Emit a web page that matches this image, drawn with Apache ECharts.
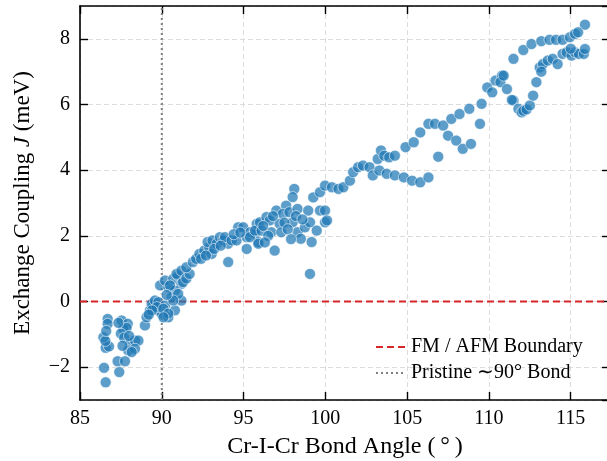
<!DOCTYPE html>
<html>
<head>
<meta charset="utf-8">
<script src="https://cdn.jsdelivr.net/npm/echarts@6/dist/echarts.min.js"></script>
<style>html,body{margin:0;padding:0;background:#fff}#c{width:607px;height:461px}</style>
</head>
<body>
<div id="c"></div>
<script>
// Bond angle (deg) and exchange coupling J (meV)
const angles = [
86.57,86.47,87.40,87.30,87.75,86.57,86.43,86.77,86.69,86.69,86.55,86.60,87.55,87.92,87.65,87.85,87.50,87.35,87.70,88.06,88.36,88.57,87.95,88.36,88.16,87.60,88.00,88.97,89.07,89.28,89.48,89.79,89.99,89.38,89.58,89.79,90.20,90.40,90.80,89.70,89.40,90.10,90.40,90.10,89.20,
89.90,90.40,90.20,90.70,91.00,91.20,90.80,90.60,91.20,90.90,91.20,91.30,90.50,91.00,90.70,90.30,91.50,91.70,91.50,91.90,92.10,92.30,92.60,92.90,92.80,93.10,93.05,93.35,93.55,93.76,94.06,94.06,93.86,94.27,94.57,94.67,94.98,95.19,95.19,95.40,95.70,95.80,95.90,92.40,92.70,93.20,93.60,94.40,94.80,
95.39,95.70,96.00,95.90,96.10,96.40,96.60,96.70,96.90,97.00,97.20,97.30,97.60,97.40,97.80,98.00,98.10,98.00,98.30,98.30,98.50,98.75,98.95,99.06,99.16,99.06,99.47,99.67,99.98,99.26,99.67,99.98,96.20,96.50,96.80,97.50,97.70,98.20,98.60,97.90,96.30,
100.40,100.80,101.10,101.50,101.70,102.00,102.30,102.70,102.90,103.20,103.40,103.60,103.90,104.25,103.30,103.75,104.25,104.80,105.30,105.80,106.30,104.90,105.40,105.80,106.30,99.98,100.10,
106.70,107.20,107.70,108.20,108.80,109.55,109.90,110.20,110.40,110.80,110.70,111.10,111.50,111.80,112.00,107.50,108.00,108.40,108.90,109.45,106.90,
111.50,112.10,112.60,113.20,113.70,114.10,114.50,114.95,115.26,115.87,115.45,110.90,111.40,112.10,112.30,112.50,112.70,112.90,113.10,113.30,113.60,113.90,114.20,114.50,114.75,115.05,115.26,115.50,115.80,115.87,113.20,115.00
];
const couplings = [
-2.46,-2.02,-2.15,-1.82,-1.82,-1.41,-1.09,-1.37,-0.53,-0.68,-1.20,-0.90,-0.58,-0.68,-0.83,-0.80,-0.98,-0.65,-1.10,-1.29,-1.19,-1.19,-1.49,-1.44,-1.54,-1.35,-1.05,-0.73,-0.48,-0.27,-0.12,-0.27,-0.37,-0.07,0.03,-0.02,-0.12,-0.48,-0.27,-0.17,-0.27,-0.22,-0.37,-0.48,-0.40,
0.49,0.44,0.64,0.69,0.79,0.54,0.33,0.13,0.03,0.84,0.94,0.59,0.49,0.23,0.03,0.20,0.70,0.84,1.04,1.20,1.30,1.45,1.55,1.65,1.81,1.86,1.45,1.76,1.96,1.86,1.76,1.20,1.96,1.86,1.86,2.26,2.26,1.96,1.60,2.11,2.06,2.36,1.81,1.30,1.40,1.60,1.70,2.05,2.10,
1.96,2.16,2.41,1.76,2.16,2.57,2.47,2.11,1.55,2.77,2.37,2.11,2.92,2.67,2.72,2.41,3.43,3.18,2.82,2.11,1.91,2.26,2.77,2.41,1.81,0.84,2.16,2.77,2.41,3.17,3.33,3.53,2.30,2.00,2.60,2.40,2.20,2.60,2.50,1.90,1.80,
3.48,3.43,3.48,3.68,3.94,4.09,4.14,4.09,3.84,4.34,4.60,4.44,4.39,4.44,3.99,3.89,3.84,3.78,3.68,3.63,3.78,4.70,4.85,5.15,5.41,2.77,2.47,
5.41,5.36,5.56,5.71,5.87,6.02,6.52,6.37,6.73,6.88,6.68,6.47,6.12,5.87,5.76,5.05,4.90,4.65,4.80,5.41,4.41,
7.39,7.66,7.84,7.93,7.97,7.97,7.97,8.05,8.15,8.43,8.20,6.88,6.14,5.81,5.85,5.97,6.27,6.68,7.13,7.23,7.34,7.39,7.23,7.54,7.59,7.49,7.59,7.54,7.54,7.69,7.00,7.70
];
const xRange = [85, 117.4];
const yRange = [-3, 9];
const boundaryJ = [0];
const pristineAngle = [90];
const legendNames = ['FM / AFM Boundary', 'Pristine \u223c90\u00b0 Bond'];

const FONT = '"Liberation Serif","Times New Roman",serif';
const points = angles.map((a, i) => [a, couplings[i]]);
const fmt = v => (v < 0 ? '\u2212' + Math.abs(v) : String(v));

const chart = echarts.init(document.getElementById('c'), null, {renderer: 'canvas'});
const baseX = {
  type: 'value', min: xRange[0], max: xRange[1], interval: 5,
  axisLine: {onZero: false, lineStyle: {color: '#000', width: 1.6}},
  axisTick: {inside: true, length: 8, lineStyle: {color: '#000', width: 1.4}},
  splitLine: {show: false}
};
const baseY = {
  type: 'value', min: yRange[0], max: yRange[1], splitNumber: 6,
  axisLine: {onZero: false, lineStyle: {color: '#000', width: 1.6}},
  axisTick: {inside: true, length: 8, lineStyle: {color: '#000', width: 1.4}},
  splitLine: {show: false}
};
chart.setOption({
  animation: false,
  backgroundColor: '#fff',
  grid: {left: 80, top: 6, right: -3, bottom: 61, containLabel: false, outerBoundsMode: 'none'},
  legend: {
    orient: 'vertical', left: 370, top: 332, itemWidth: 30, itemHeight: 14, itemGap: 6,
    textStyle: {fontFamily: FONT, fontSize: 20, color: '#000'},
    itemStyle: {opacity: 0},
    data: legendNames
  },
  xAxis: [
    Object.assign({}, baseX, {
      position: 'bottom',
      name: 'Cr-I-Cr Bond Angle (\u2009\u00b0\u2009)', nameLocation: 'middle', nameGap: 35,
      nameTextStyle: {fontFamily: FONT, fontSize: 24, color: '#000'},
      axisLabel: {fontFamily: FONT, fontSize: 20, color: '#000', margin: 9, showMaxLabel: false, formatter: fmt},
      splitLine: {show: true, lineStyle: {color: '#dcdcdc', type: [5, 3], width: 1}}
    }),
    Object.assign({}, baseX, {position: 'top', axisLabel: {show: false}})
  ],
  yAxis: [
    Object.assign({}, baseY, {
      position: 'left',
      name: '{a|Exchange Coupling }{i|J}{a| (meV)}', nameLocation: 'middle', nameGap: 46,
      nameTextStyle: {rich: {a: {fontFamily: FONT, fontSize: 23, color: '#000'}, i: {fontFamily: FONT, fontSize: 23, fontStyle: 'italic', color: '#000'}}},
      axisLabel: {fontFamily: FONT, fontSize: 20, color: '#000', margin: 10, showMinLabel: false, showMaxLabel: false, formatter: fmt},
      splitLine: {show: true, lineStyle: {color: '#dcdcdc', type: [5, 3], width: 1}}
    }),
    Object.assign({}, baseY, {position: 'right', axisLabel: {show: false}})
  ],
  series: [
    {
      name: legendNames[0], type: 'line', symbol: 'none', z: 2,
      data: [[xRange[0], boundaryJ[0]], [xRange[1], boundaryJ[0]]],
      lineStyle: {color: '#d62728', width: 2, type: [7, 4]}, itemStyle: {color: '#d62728'}
    },
    {
      name: legendNames[1], type: 'line', symbol: 'none', z: 2,
      data: [[pristineAngle[0], yRange[0]], [pristineAngle[0], yRange[1]]],
      lineStyle: {color: '#808080', width: 2, type: [2, 3]}, itemStyle: {color: '#808080'}
    },
    {
      name: 'data', type: 'scatter', z: 3, symbolSize: 11,
      data: points,
      itemStyle: {color: 'rgba(31,119,180,0.9)', borderColor: '#ffffff', borderWidth: 0.7}
    }
  ]
});
</script>
</body>
</html>
